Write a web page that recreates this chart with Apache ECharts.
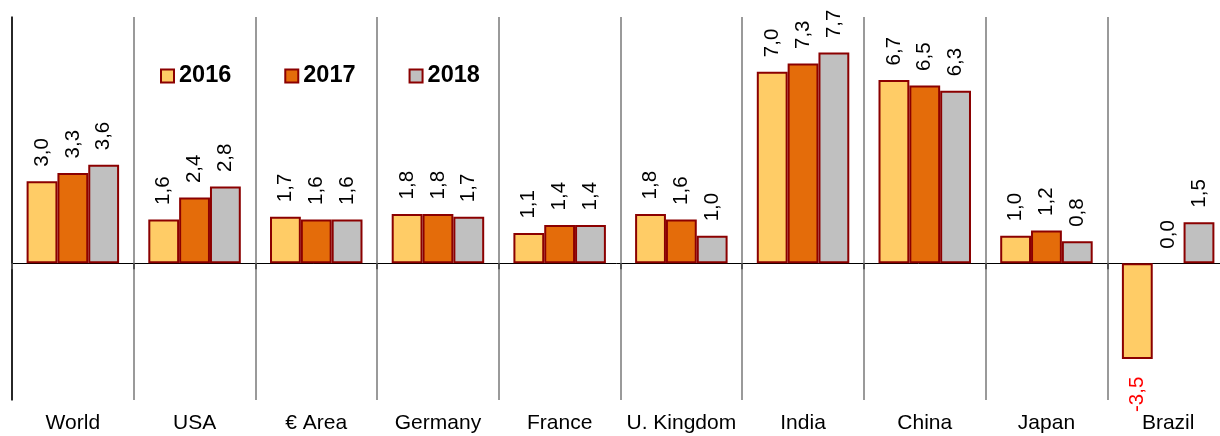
<!DOCTYPE html>
<html>
<head>
<meta charset="utf-8">
<script src="https://cdn.jsdelivr.net/npm/echarts@6/dist/echarts.min.js"></script>
<style>
html,body{margin:0;padding:0;background:#fff;}
#c{width:1220px;height:436px;}
</style>
</head>
<body>
<div id="c"></div>
<script>
const categories = ['World', 'USA', '€ Area', 'Germany', 'France', 'U. Kingdom', 'India', 'China', 'Japan', 'Brazil'];
const seriesNames = ['2016', '2017', '2018'];
const values2016 = [3.0, 1.6, 1.7, 1.8, 1.1, 1.8, 7.0, 6.7, 1.0, -3.5];
const values2017 = [3.3, 2.4, 1.6, 1.8, 1.4, 1.6, 7.3, 6.5, 1.2, 0.0];
const values2018 = [3.6, 2.8, 1.6, 1.7, 1.4, 1.0, 7.7, 6.3, 0.8, 1.5];
const colors = ['#FFCC66', '#E46C0A', '#C0C0C0'];

const FONT = 'Liberation Sans, Arial, sans-serif';
const fmt = v => v.toFixed(1).replace('.', ',');

function buildData(arr) {
  return arr.map(v => {
    if (v < 0) return {
      value: v,
      label: { position: 'bottom', align: 'left', color: '#FF0000', distance: 53 }
    };
    if (v === 0) return { value: v, itemStyle: { borderWidth: 0 } };
    return v;
  });
}

const allValues = [values2016, values2017, values2018];
const chart = echarts.init(document.getElementById('c'));
chart.setOption({
  animation: false,
  backgroundColor: '#fff',
  textStyle: { fontFamily: FONT },
  grid: { left: 12, top: 17, width: 1217, height: 383, outerBoundsMode: 'none', containLabel: false },
  legend: {
    left: 155, top: 59,
    itemWidth: 13, itemHeight: 13, itemGap: 53,
    icon: 'rect',
    textStyle: { fontSize: 23.5, fontWeight: 'bold', color: '#000', fontFamily: FONT },
    data: seriesNames
  },
  xAxis: [{
    type: 'category',
    data: categories,
    position: 'bottom',
    axisLine: { show: false, onZero: false },
    axisTick: { show: false },
    axisLabel: { color: '#000', fontSize: 21, margin: 13, fontFamily: FONT, interval: 0 },
    splitLine: { show: true, interval: 0, lineStyle: { color: '#9a9a9a', width: 2 } }
  }, {
    type: 'category',
    data: categories,
    position: 'bottom',
    axisLine: { show: true, onZero: true, lineStyle: { color: '#000', width: 1 } },
    axisTick: { show: true, interval: 0, length: 6, lineStyle: { color: '#555', width: 2 } },
    axisLabel: { show: false },
    splitLine: { show: false }
  }],
  yAxis: {
    type: 'value',
    min: -5, max: 9,
    axisLine: { show: true, lineStyle: { color: '#000', width: 1.5 } },
    axisTick: { show: false },
    axisLabel: { show: false },
    splitLine: { show: false }
  },
  series: seriesNames.map((name, i) => ({
    name: name,
    type: 'bar',
    xAxisIndex: 0,
    barGap: '0%',
    barCategoryGap: '24%',
    itemStyle: { color: colors[i], borderColor: '#8B0000', borderWidth: 2 },
    label: {
      show: true,
      position: 'top',
      rotate: 90,
      align: 'right',
      verticalAlign: 'middle',
      distance: 43,
      fontSize: 20.5,
      color: '#000',
      fontFamily: FONT,
      formatter: p => fmt(p.value)
    },
    data: buildData(allValues[i])
  }))
});
</script>
</body>
</html>
